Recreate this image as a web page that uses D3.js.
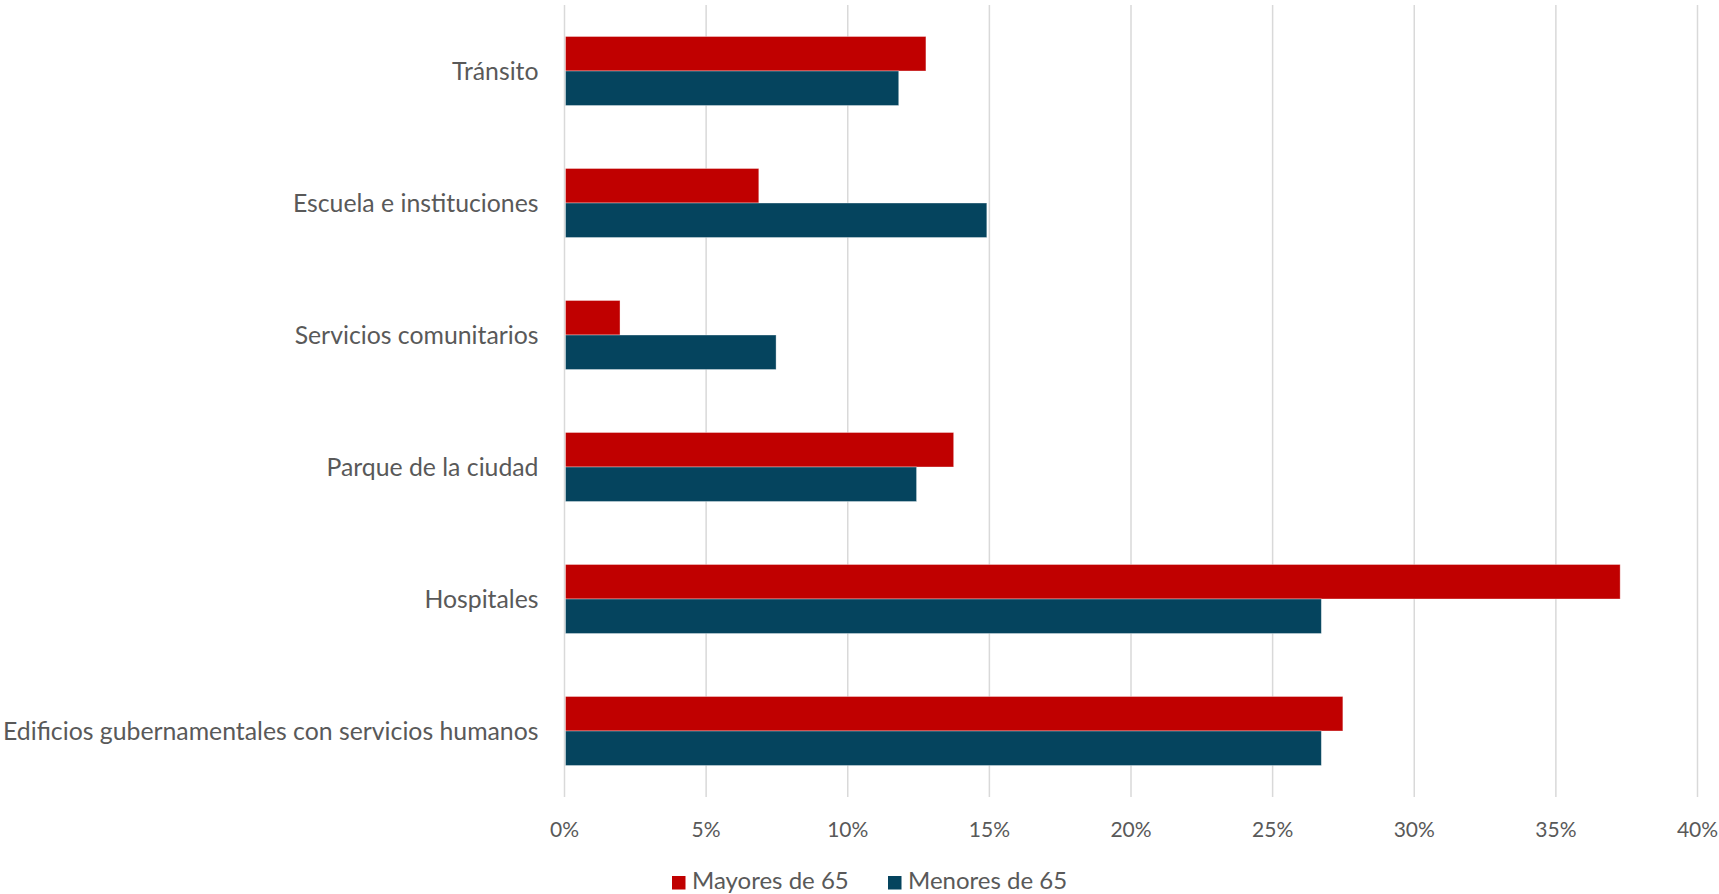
<!DOCTYPE html>
<html>
<head>
<meta charset="utf-8">
<script src="https://cdn.jsdelivr.net/npm/d3@7"></script>
<style>
  html, body { margin: 0; padding: 0; background: #fff; }
  svg { display: block; }
  text { font-family: Lato, "Open Sans", sans-serif; fill: #595959; }
</style>
</head>
<body>
<svg id="chart" width="1719" height="894"></svg>
<script>
// Share of respondents per facility type, by age group (fractions)
const categories = [
  "Tránsito",
  "Escuela e instituciones",
  "Servicios comunitarios",
  "Parque de la ciudad",
  "Hospitales",
  "Edificios gubernamentales con servicios humanos"
];
const seriesNames = ["Mayores de 65", "Menores de 65"];
const mayores65 = [0.1276, 0.0686, 0.0196, 0.1374, 0.3727, 0.2748];
const menores65 = [0.1180, 0.1491, 0.0747, 0.1243, 0.2672, 0.2672];
const xTicks = [0, 0.05, 0.10, 0.15, 0.20, 0.25, 0.30, 0.35, 0.40];
const colors = ["#C00000", "#05445E"];

const rows = categories.map((c, i) => ({ cat: c, values: [mayores65[i], menores65[i]] }));

const svg = d3.select("#chart");
const plotLeft = 564.5, plotRight = 1697.5, plotTop = 5, plotBottom = 797;

const x = d3.scaleLinear().domain([0, 0.4]).range([plotLeft, plotRight]);
const y = d3.scaleBand().domain(categories).range([plotTop, plotBottom])
  .paddingInner(0.477).paddingOuter(0.2385);
const ySub = d3.scaleBand().domain([0, 1]).range([0, y.bandwidth()]);

// vertical gridlines
svg.append("g").selectAll("line").data(xTicks).join("line")
  .attr("x1", d => x(d)).attr("x2", d => x(d))
  .attr("y1", plotTop).attr("y2", plotBottom)
  .attr("stroke", "#d9d9d9").attr("stroke-width", 1.5);

// bars
const groups = svg.append("g").selectAll("g").data(rows).join("g")
  .attr("transform", d => `translate(0,${y(d.cat)})`);
groups.selectAll("rect").data(d => d.values.map((v, k) => ({ v, k }))).join("rect")
  .attr("x", x(0) + 1)
  .attr("y", d => ySub(d.k))
  .attr("width", d => x(d.v) - x(0) - 1)
  .attr("height", ySub.bandwidth())
  .attr("fill", d => colors[d.k])
  .attr("stroke", "rgba(255,255,255,0.45)")
  .attr("stroke-width", 0.8);

// category labels
svg.append("g").selectAll("text").data(categories).join("text")
  .attr("x", plotLeft - 26)
  .attr("y", d => y(d) + y.bandwidth() / 2)
  .attr("dy", "0.35em")
  .attr("text-anchor", "end")
  .style("font-size", "24.8px")
  .text(d => d);

// x axis tick labels
const fmt = d3.format(".0%");
svg.append("g").selectAll("text").data(xTicks).join("text")
  .attr("x", d => x(d))
  .attr("y", 830)
  .attr("dy", "0.35em")
  .attr("text-anchor", "middle")
  .style("font-size", "21px")
  .text(d => fmt(d));

// legend
const legendX = [672, 888];
const legend = svg.append("g").selectAll("g").data(seriesNames).join("g")
  .attr("transform", (d, i) => `translate(${legendX[i]},0)`);
legend.append("rect")
  .attr("x", 0).attr("y", 876).attr("width", 13.5).attr("height", 13.5)
  .attr("fill", (d, i) => colors[i]);
legend.append("text")
  .attr("x", 20).attr("y", 880.5).attr("dy", "0.35em")
  .style("font-size", "24px")
  .text(d => d);
</script>
</body>
</html>
